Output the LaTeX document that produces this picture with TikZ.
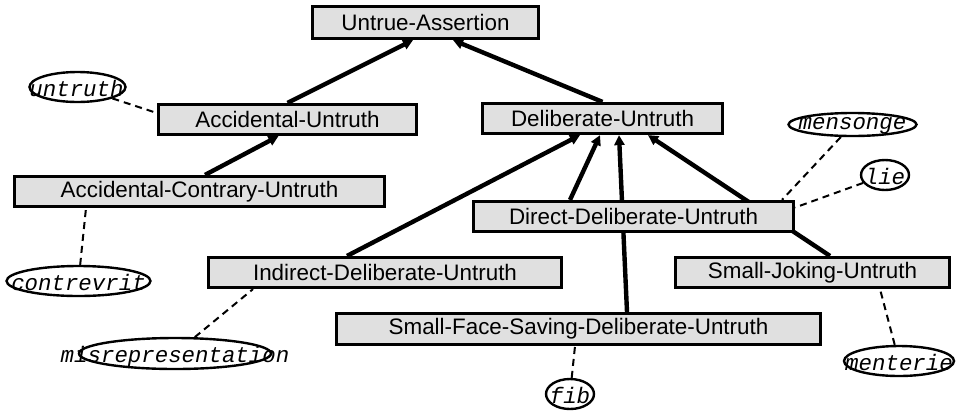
\documentclass[tikz,border=0pt]{standalone}
\usepackage{fontspec}
\setmainfont{Liberation Sans}
\newfontfamily\wordfont{Liberation Mono}
\usetikzlibrary{arrows.meta, calc, backgrounds, shapes.geometric}
\definecolor{boxgray}{RGB}{224,224,224}
\begin{document}
\begin{tikzpicture}[x=0.5pt, y=-0.5pt,
	concept/.style={draw, line width=1.6pt, fill=boxgray, inner sep=0pt, minimum height=15pt,
		font=\fontsize{11.2}{13}\selectfont},
	word/.style={draw, ellipse, line width=1.2pt, inner sep=0pt},
	wordtext/.style={inner sep=0pt, font=\wordfont\itshape\fontsize{11.2}{13}\selectfont},
	isa/.style={line width=2.2pt, -{Triangle[length=5pt,width=5pt]}},
	lex/.style={line width=1pt, dash pattern=on 3.5pt off 2.5pt}
]
\useasboundingbox (0,0) rectangle (962,413);

% concepts
\node[concept, minimum width=113pt, minimum height=16pt] (assert) at (425.5, 22.5) {Untrue-Assertion};
\node[concept, minimum width=129pt] (accid) at (287.5, 119.5) {Accidental-Untruth};
\node[concept, minimum width=120pt] (delib) at (602.5, 118.5) {Deliberate-Untruth};
\node[concept, minimum width=185pt] (contrary) at (199.5, 191.5) {Accidental-Contrary-Untruth};
\node[concept, minimum width=160pt] (direct) at (633.5, 216.5) {Direct-Deliberate-Untruth};
\node[concept, minimum width=176.5pt] (indirect) at (385, 272.5) {Indirect-Deliberate-Untruth};
\node[concept, minimum width=137pt] (joking) at (812.5, 272.5) {Small-Joking-Untruth};
\node[concept, minimum width=242pt, minimum height=15.5pt] (facesave) at (578.5, 329) {Small-Face-Saving-Deliberate-Untruth};

% words
\node[word, minimum width=48pt, minimum height=15pt] (untruth) at (77.5, 87) {};
\node[word, minimum width=64pt, minimum height=11.5pt] (mensonge) at (852.5, 124.5) {};
\node[word, minimum width=24pt, minimum height=15pt] (lie) at (885, 175) {};
\node[word, minimum width=72pt, minimum height=15pt] (contrevrit) at (78.5, 281) {};
\node[word, minimum width=96pt, minimum height=15.5pt] (misrep) at (175, 353.5) {};
\node[word, minimum width=24pt, minimum height=15pt] (fib) at (570, 394) {};
\node[word, minimum width=55pt, minimum height=15pt] (menterie) at (899, 361) {};

\node[wordtext] (untruth text) at ($(untruth)+(-1,1)$) {untruth};
\node[wordtext] (mensonge text) at ($(mensonge)+(0,1)$) {mensonge};
\node[wordtext] (lie text) at ($(lie)+(0,1)$) {lie};
\node[wordtext] (contrevrit text) at ($(contrevrit)+(0,1)$) {contrevrit};
\node[wordtext] (misrep text) at ($(misrep)+(0,3)$) {misrepresentation};
\node[wordtext] (fib text) at ($(fib)+(0,1)$) {fib};
\node[wordtext] (menterie text) at ($(menterie)+(0,1)$) {menterie};

\begin{scope}[on background layer]
% is-a links
\draw[isa] (accid.north) -- ($(assert.south)+(-12.5,0)$);
\draw[isa] (delib.north) -- ($(assert.south)+(27.5,0)$);
\draw[isa] ($(contrary.north)+(5.5,0)$) -- ($(accid.south)+(-9,0)$);
\draw[isa] ($(indirect.north)+(-38,0)$) -- ($(delib.south)+(-22.5,0)$);
\draw[isa] ($(direct.north)+(-63.5,0)$) -- ($(delib.south)+(-2.5,0)$);
\draw[isa] ($(facesave.north)+(48.5,0)$) -- ($(delib.south)+(16.5,0)$);
\draw[isa] ($(joking.north)+(17.5,0)$) -- ($(delib.south)+(45.5,0)$);

% lexical links
\draw[lex] (untruth) -- ($(accid.west)+(0,-6.5)$);
\draw[lex] (mensonge) -- ($(direct.north)+(148.5,0)$);
\draw[lex] (lie) -- ($(direct.east)+(0,-9)$);
\draw[lex] (contrevrit) -- ($(contrary.south)+(-113.5,0)$);
\draw[lex] (misrep) -- ($(indirect.south)+(-132,0)$);
\draw[lex] (fib) -- ($(facesave.south)+(-3.5,0)$);
\draw[lex] (menterie) -- ($(joking.south)+(67.5,0)$);
\end{scope}
\end{tikzpicture}
\end{document}
